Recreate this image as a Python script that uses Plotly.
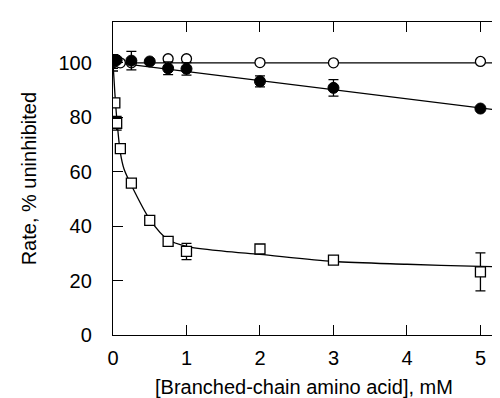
import plotly.graph_objects as go

# --- data ---
open_x = [0, 0.1, 0.25, 0.75, 1, 2, 3, 5]
open_y = [100, 100, 100, 101.5, 101.5, 100.1, 100, 100.5]
open_err = [3, 0, 0, 0, 0, 0, 0, 0]

filled_x = [0, 0.05, 0.25, 0.5, 0.75, 1, 2, 3, 5]
filled_y = [100.5, 101, 100.8, 100.5, 98, 97.8, 93.2, 90.8, 83.2]
filled_err = [2.5, 0, 3.4, 0, 2.3, 2.3, 2, 3, 0]

sq_x = [0.025, 0.05, 0.1, 0.25, 0.5, 0.75, 1, 2, 3, 5]
sq_y = [85.3, 77.8, 68.5, 55.8, 42.1, 34.4, 30.7, 31.6, 27.5, 23.2]
sq_err = [0, 2.5, 0, 0, 0, 0, 3, 0, 1.5, 7]

# fitted lines
open_fit_x = [0, 5.4]
open_fit_y = [100, 100]
filled_fit_x = [0, 5.4]
filled_fit_y = [100.2, 82.1]
sq_fit_x = [0, 0.025, 0.05, 0.1, 0.15, 0.25, 0.5, 0.75, 1, 1.5, 2, 3, 4, 5, 5.4]
sq_fit_y = [100, 89, 80, 67, 61, 55, 42.5, 35, 32.6, 30.8, 29.6, 27, 26, 25.2, 25]

x_ticks = [0, 1, 2, 3, 4, 5]
y_ticks = [0, 20, 40, 60, 80, 100]

FONT = "Liberation Sans, Arial, sans-serif"
line_style = dict(color="black", width=1.3)

fig = go.Figure()

fig.add_trace(go.Scatter(x=open_fit_x, y=open_fit_y, mode="lines",
                         line=line_style, hoverinfo="skip"))
fig.add_trace(go.Scatter(x=filled_fit_x, y=filled_fit_y, mode="lines",
                         line=line_style, hoverinfo="skip"))
fig.add_trace(go.Scatter(x=sq_fit_x, y=sq_fit_y, mode="lines",
                         line=dict(color="black", width=1.3, shape="spline", smoothing=0.8),
                         hoverinfo="skip"))

err_style = dict(type="data", visible=True, color="black", thickness=1.3, width=5)

fig.add_trace(go.Scatter(
    x=open_x, y=open_y, mode="markers",
    marker=dict(symbol="circle", size=10, color="white",
                line=dict(color="black", width=1.3)),
    error_y=dict(array=open_err, **err_style)))
fig.add_trace(go.Scatter(
    x=filled_x, y=filled_y, mode="markers",
    marker=dict(symbol="circle", size=11, color="black",
                line=dict(color="black", width=1)),
    error_y=dict(array=filled_err, **err_style)))
fig.add_trace(go.Scatter(
    x=sq_x, y=sq_y, mode="markers",
    marker=dict(symbol="square", size=10, color="white",
                line=dict(color="black", width=1.3)),
    error_y=dict(array=sq_err, **err_style)))

fig.update_layout(
    width=500, height=398,
    margin=dict(l=105, r=0, t=14, b=71, autoexpand=False),
    paper_bgcolor="white", plot_bgcolor="white",
    showlegend=False,
    font=dict(family=FONT, size=20, color="black"),
    xaxis=dict(range=[0, 5.375], tickvals=x_ticks, ticks="inside", ticklen=10,
               tickwidth=1.3, tickcolor="black", showline=True, linecolor="black",
               linewidth=1.3, mirror="ticks", showgrid=False, zeroline=False,
               tickfont=dict(size=20), ticklabelstandoff=5, automargin=False),
    yaxis=dict(range=[0, 115], tickvals=y_ticks, ticks="inside", ticklen=10,
               tickwidth=1.3, tickcolor="black", showline=True, linecolor="black",
               linewidth=1.3, mirror="ticks", showgrid=False, zeroline=False,
               tickfont=dict(size=20), ticklabelstandoff=16, automargin=False),
    annotations=[
        dict(text="[Branched-chain amino acid], mM", xref="paper", yref="paper",
             x=0.484, y=-0.165, xanchor="center", yanchor="middle",
             showarrow=False, font=dict(size=20)),
        dict(text="Rate, % uninhibited", xref="paper", yref="paper",
             x=-0.213, y=0.5, xanchor="center", yanchor="middle", textangle=-90,
             showarrow=False, font=dict(size=20)),
    ],
)

fig.write_html("out.html")
